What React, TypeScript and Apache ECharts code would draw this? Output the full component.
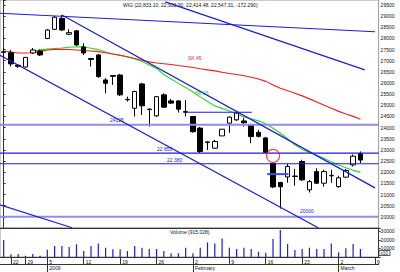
import React, { useEffect, useRef } from "react";
import * as echarts from "echarts";

// Trading sessions shown on the chart (the last two slots are still empty).
const days = [
  "2008-12-19", "2008-12-22", "2008-12-23", "2008-12-29", "2008-12-30", "2009-01-02",
  "2009-01-05", "2009-01-06", "2009-01-07", "2009-01-08", "2009-01-09",
  "2009-01-12", "2009-01-13", "2009-01-14", "2009-01-15", "2009-01-16",
  "2009-01-19", "2009-01-20", "2009-01-21", "2009-01-22", "2009-01-23",
  "2009-01-26", "2009-01-27", "2009-01-28", "2009-01-29", "2009-01-30",
  "2009-02-02", "2009-02-03", "2009-02-04", "2009-02-05", "2009-02-06",
  "2009-02-09", "2009-02-10", "2009-02-11", "2009-02-12", "2009-02-13",
  "2009-02-16", "2009-02-17", "2009-02-18", "2009-02-19", "2009-02-20",
  "2009-02-23", "2009-02-24", "2009-02-25", "2009-02-26", "2009-02-27",
  "2009-03-02", "2009-03-03", "2009-03-04", "2009-03-05", "2009-03-06",
  "2009-03-09",
];

const open = [
  27380, 27360, 26800, 26720, 27350, 27440,
  28000, 28410, 28900, 28190, 28340,
  27620, 27100, 27260, 26140, 26300,
  26360, 25270, 24870, 25960, 24830,
  24530, 25470, 25200, 25200, 24720,
  24500, 23980, 23360, 23080, 23630,
  24200, 24350, 24300, 24120, 23790,
  23540, 22400, 21540, 21790, 21830,
  22480, 21210, 22030, 21510, 21840,
  21360, 21780, 22330, 22833.1,
];
const close = [
  27400, 26860, 26750, 27150, 27480, 27260,
  28380, 28950, 28380, 28260, 27710,
  27350, 27060, 26290, 25990, 26340,
  25470, 25250, 25620, 24980, 24810,
  25390, 24920, 25100, 24830, 24690,
  23820, 22930, 23340, 23380, 23930,
  24470, 24650, 24220, 23600, 23610,
  22890, 21340, 21350, 22260, 21810,
  21660, 21580, 21510, 22030, 21860,
  21750, 22080, 22719.6, 22547.31,
];
const low = [
  27170, 26740, 26680, 26700, 27300, 27210,
  27970, 28380, 28330, 28150, 27660,
  27260, 26740, 26230, 25540, 25920,
  25420, 25170, 24500, 24570, 24050,
  24480, 24890, 25060, 24680, 24500,
  23770, 22860, 23000, 23050, 23630,
  23770, 24300, 24050, 23300, 23560,
  22870, 21290, 20370, 21530, 21400,
  21610, 21090, 21480, 21360, 21530,
  21300, 21750, 22260, 22414.48,
];
const high = [
  27560, 27480, 26850, 27170, 27570, 27500,
  28420, 29000, 29050, 28410, 28380,
  27780, 27130, 27300, 26220, 26360,
  26410, 25390, 25660, 26010, 24860,
  25420, 25540, 25290, 25240, 25240,
  24520, 24030, 23380, 23450, 23940,
  24500, 24730, 24440, 24170, 23900,
  23590, 22420, 21570, 22380, 22150,
  22560, 21660, 22180, 22110, 22110,
  21840, 22150, 22800, 22933.9,
];

// Daily turnover
const volume = [
  20000, 3200, 3500, 1500, 3500, 1500,
  8500, 12900, 12900, 11700, 14900,
  7000, 12900, 16000, 10900, 9000,
  9000, 7000, 12900, 10900, 9400,
  9400, 7000, 4300, 4300, 10900,
  4300, 10900, 17200, 16000, 21900,
  10900, 9400, 10900, 9400, 6200,
  5000, 21100, 31700, 15200, 8200,
  9400, 10900, 9400, 9400, 16000,
  5500, 10200, 15200, 9400,
];

// Moving averages
const ma45 = [
  27440, 27390, 27350, 27350, 27360, 27420,
  27480, 27510, 27515, 27505, 27485,
  27460, 27440, 27410, 27360, 27305,
  27250, 27180, 27100, 27020, 26950,
  26900, 26865, 26830, 26785, 26745,
  26695, 26640, 26590, 26545, 26485,
  26430, 26385, 26330, 26260, 26185,
  26075, 25915, 25770, 25655, 25545,
  25425, 25290, 25155, 25005, 24865,
  24730, 24615, 24505, 24380,
];
const ma15 = [
  null, null, null, null, 27420, 27490,
  27520, 27550, 27575, 27605, 27625,
  27620, 27560, 27500, 27395, 27305,
  27240, 27170, 27080, 26970, 26810,
  26655, 26385, 26185, 25985, 25805,
  25600, 25380, 25175, 24975, 24865,
  24750, 24615, 24480, 24395, 24305,
  24170, 23970, 23750, 23500, 23230,
  23025, 22890, 22760, 22625, 22465,
  22330, 22200, 22085, 21995,
];

// Drawn trend lines and levels: [[session index, value], [session index, value]]
const trendDark = [
  [[-0.5, 29130], [51.0, 28300]],
  [[8.0, 29050], [51.0, 21300]],
  [[22.2, 29640], [49.6, 26590]],
  [[-0.5, 27240], [43.2, 19510]],
  [[-0.5, 20540], [9.4, 19510]],
  [[24.9, 24690], [34.1, 24690]],
  [[-0.5, 22855], [51.5, 22855]],
  [[-0.5, 22380], [51.5, 22380]],
];
const trendLight = [
  [[-0.5, 24125], [51.5, 24125]],
  [[-0.5, 20000], [51.5, 20000]],
];
const trendMid = [[[36.2, 21915], [39.1, 21915]]];
const gapMarker = [[37, 22735]];

const monthStarts = ["2009-01-05", "2009-02-02", "2009-03-02"];
const monthNames = ["2009", "February", "March"];

const FONT = "Liberation Sans";
const DARK = "#1c1cd8";
const LIGHT = "#8c8cf2";

const isMonday = (d: string) => {
  const [y, m, dd] = d.split("-").map(Number);
  return new Date(Date.UTC(y, m - 1, dd)).getUTCDay() === 1;
};

function buildOption() {
  const candles = open.map((o, i) => [o, close[i], low[i], high[i]]);
  const lineSeries = (
    lines: number[][][],
    color: string,
    width: number
  ) =>
    lines.map((pts) => ({
      type: "line",
      xAxisIndex: 1,
      yAxisIndex: 0,
      data: pts,
      symbol: "none",
      silent: true,
      z: 4,
      lineStyle: { color, width },
    }));

  return {
    animation: false,
    backgroundColor: "#ffffff",
    textStyle: { fontFamily: FONT },
    grid: [
      { left: 0, right: 21.4, top: 0, height: 228, show: true, borderColor: "#9a9a9a", borderWidth: 1 },
      { left: 0, right: 21.4, top: 228, bottom: 15, show: true, borderColor: "#9a9a9a", borderWidth: 1 },
    ],
    xAxis: [
      {
        type: "category",
        gridIndex: 0,
        data: days,
        boundaryGap: true,
        axisLine: { show: true, lineStyle: { color: "#333", width: 1 } },
        axisTick: { show: false },
        axisLabel: { show: false },
        splitLine: { show: false },
      },
      { type: "value", gridIndex: 0, min: -0.5, max: 51.5, show: false },
      {
        type: "category",
        gridIndex: 1,
        data: days,
        boundaryGap: true,
        axisLine: { show: true, lineStyle: { color: "#333", width: 1 } },
        axisTick: {
          show: true,
          alignWithLabel: true,
          interval: (i: number) => isMonday(days[i]),
          length: 7,
          lineStyle: { color: "#333", width: 1 },
        },
        axisLabel: {
          interval: (i: number) => isMonday(days[i]),
          formatter: (v: string) => String(Number(v.slice(8))),
          fontSize: 5,
          color: "#111",
          align: "left",
          padding: [0, 0, 0, 2],
          margin: 2,
        },
        splitLine: { show: false },
      },
      {
        type: "category",
        gridIndex: 1,
        data: days,
        boundaryGap: true,
        position: "bottom",
        offset: 7,
        axisLine: { show: true, lineStyle: { color: "#333", width: 1 } },
        axisTick: {
          show: true,
          alignWithLabel: true,
          interval: (i: number) => monthStarts.includes(days[i]),
          length: 8,
          lineStyle: { color: "#333", width: 1 },
        },
        axisLabel: {
          interval: (i: number) => monthStarts.includes(days[i]),
          formatter: (v: string) => {
            const k = monthStarts.indexOf(v);
            return k >= 0 ? monthNames[k] : "";
          },
          fontSize: 5,
          color: "#111",
          align: "left",
          padding: [0, 0, 0, 2],
          margin: 1.5,
        },
        splitLine: { show: false },
      },
    ],
    yAxis: [
      {
        type: "value",
        gridIndex: 0,
        position: "right",
        min: 19500,
        max: 29724,
        interval: 500,
        axisLine: { show: true, lineStyle: { color: "#333", width: 1 } },
        axisTick: { show: true, length: 2, lineStyle: { color: "#333" } },
        axisLabel: {
          fontSize: 5,
          color: "#111",
          margin: 2,
          formatter: (v: number) => (v % 500 === 0 && v > 19500 ? String(v) : ""),
        },
        splitLine: { show: false },
      },
      {
        type: "value",
        gridIndex: 1,
        position: "right",
        min: 0,
        max: 34100,
        interval: 10000,
        axisLine: { show: true, lineStyle: { color: "#333", width: 1 } },
        axisTick: { show: true, length: 2, lineStyle: { color: "#333" } },
        axisLabel: {
          fontSize: 5,
          color: "#111",
          margin: 2,
          formatter: (v: number) => (v > 0 && v % 10000 === 0 ? String(v) : ""),
        },
        splitLine: { show: false },
      },
    ],
    series: [
      {
        type: "line",
        xAxisIndex: 0,
        yAxisIndex: 0,
        data: ma15,
        symbol: "none",
        silent: true,
        z: 2,
        lineStyle: { color: "#22dd22", width: 1.1 },
      },
      {
        type: "line",
        xAxisIndex: 0,
        yAxisIndex: 0,
        data: ma45,
        symbol: "none",
        silent: true,
        z: 2,
        lineStyle: { color: "#ff1a1a", width: 1.1 },
      },
      {
        type: "candlestick",
        xAxisIndex: 0,
        yAxisIndex: 0,
        data: candles,
        barWidth: 5,
        z: 3,
        itemStyle: {
          color: "#ffffff",
          color0: "#000000",
          borderColor: "#000000",
          borderColor0: "#000000",
          borderWidth: 1,
        },
      },
      ...lineSeries(trendLight, LIGHT, 2),
      ...lineSeries(trendDark, DARK, 1.2),
      ...lineSeries(trendMid, "#4646ee", 2),
      {
        type: "scatter",
        xAxisIndex: 1,
        yAxisIndex: 0,
        data: gapMarker,
        symbol: "circle",
        symbolSize: 13,
        silent: true,
        z: 5,
        itemStyle: { color: "rgba(0,0,0,0)", borderColor: "#ff1010", borderWidth: 1.2 },
      },
      {
        type: "bar",
        xAxisIndex: 2,
        yAxisIndex: 1,
        data: volume,
        barWidth: 1.2,
        silent: true,
        itemStyle: { color: "#1a1ae6" },
      },
    ],
    graphic: [
      {
        type: "text",
        x: 123,
        y: 5,
        style: {
          text: "WIG (22,833.10, 22,933.90, 22,414.48, 22,547.31, -172.290)",
          fontSize: 5,
          fontFamily: FONT,
          fill: "#111",
          verticalAlign: "middle",
        },
      },
      { type: "text", x: 188, y: 57.5, style: { text: "SK 45", fontSize: 5, fontFamily: FONT, fill: "#ff1a1a", verticalAlign: "middle" } },
      { type: "text", x: 195, y: 93, style: { text: "SK 15", fontSize: 5, fontFamily: FONT, fill: "#22cc22", verticalAlign: "middle" } },
      { type: "text", x: 110, y: 120, style: { text: "24125", fontSize: 5, fontFamily: FONT, fill: DARK, verticalAlign: "middle" } },
      { type: "text", x: 157, y: 149, style: { text: "22 855", fontSize: 5, fontFamily: FONT, fill: DARK, verticalAlign: "middle" } },
      { type: "text", x: 167, y: 160, style: { text: "22 380", fontSize: 5, fontFamily: FONT, fill: DARK, verticalAlign: "middle" } },
      { type: "text", x: 300, y: 211, style: { text: "20000", fontSize: 5, fontFamily: FONT, fill: DARK, verticalAlign: "middle" } },
      { type: "text", x: 170, y: 232, style: { text: "Volume (915,028)", fontSize: 5, fontFamily: FONT, fill: "#111", verticalAlign: "middle" } },
      { type: "rect", shape: { x: 379, y: 250.5, width: 11, height: 5 }, style: { fill: "#fff", stroke: "#333", lineWidth: 0.8 } },
      { type: "text", x: 380.5, y: 253, style: { text: "x10", fontSize: 4.5, fontFamily: FONT, fill: "#111", verticalAlign: "middle" } },
    ],
  };
}

export default function App() {
  const ref = useRef<HTMLDivElement>(null);
  useEffect(() => {
    if (!ref.current) return;
    const chart = echarts.init(ref.current, null, { renderer: "svg" });
    chart.setOption(buildOption() as any);
    return () => chart.dispose();
  }, []);
  return (
    <div
      ref={ref}
      style={{ position: "fixed", left: 0, top: 0, width: 400, height: 272, background: "#fff" }}
    />
  );
}
